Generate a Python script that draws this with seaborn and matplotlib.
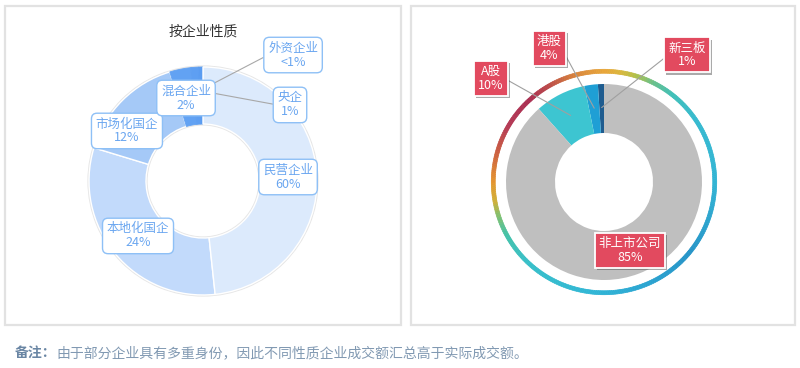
import numpy as np
import matplotlib
matplotlib.use('Agg')
import matplotlib.pyplot as plt
import matplotlib.patheffects as pe
from matplotlib.colors import LinearSegmentedColormap
from matplotlib.patches import Rectangle
import seaborn as sns

# 按企业性质（标签百分比 + 图上读出的扇区大小）
nature_names = ['民营企业', '本地化国企', '市场化国企', '混合企业', '央企', '外资企业']
nature_pct = ['60%', '24%', '12%', '2%', '1%', '<1%']
nature_share = [48.3, 31.4, 15.6, 3.0, 1.1, 0.6]
nature_colors = ['#dceafc', '#c2dafb', '#a5c9f7', '#62a2f3', '#5e9ff2', '#5a9cf1']

# 上市情况
listing_names = ['新三板', '港股', 'A股', '非上市公司']
listing_pct = ['1%', '4%', '10%', '85%']
listing_share = [1.0, 2.2, 8.4, 88.4]
listing_colors = ['#1f5c8f', '#1f9fd5', '#3dc5d1', '#bfbfbf']

title_left = '按企业性质'
note_head = '备注：'
note_body = '由于部分企业具有多重身份，因此不同性质企业成交额汇总高于实际成交额。'

# 外圈渐变色（顺时针，从正上方开始）
ring_stops = [(0, '#e8a63a'), (8, '#d8b83e'), (16, '#b0c04a'), (25, '#6cc088'),
              (37, '#40c0b8'), (55, '#36bad0'), (90, '#32b4d4'), (130, '#2694c8'),
              (160, '#2ba6d2'), (185, '#30b6d6'), (225, '#38c0c8'), (242, '#44c2a8'),
              (252, '#80c070'), (260, '#d0b038'), (270, '#e5962f'), (285, '#cc6040'),
              (300, '#b53a55'), (318, '#aa2e52'), (330, '#bb4a4a'), (345, '#d8843c'),
              (360, '#e8a63a')]
RING_N = 360

sns.set_theme(style='white')
plt.rcParams['font.family'] = ['Noto Sans CJK SC', 'DejaVu Sans']

W, H = 800, 368
fig = plt.figure(figsize=(W / 100, H / 100), dpi=100)
fig.patch.set_facecolor('white')


def panel(x0, y0, x1, y1, cx, cy, r):
    fig.patches.append(Rectangle((x0 / W, 1 - y1 / H), (x1 - x0) / W, (y1 - y0) / H,
                                 transform=fig.transFigure, fill=False,
                                 ec='#e2e2e2', lw=1.6, zorder=0))
    ax = fig.add_axes([x0 / W, 1 - y1 / H, (x1 - x0) / W, (y1 - y0) / H])
    lims = ((x0 - cx) / r, (x1 - cx) / r), ((cy - y1) / r, (cy - y0) / r)
    return ax, lims


def finish(ax, lims):
    ax.set_xlim(*lims[0])
    ax.set_ylim(*lims[1])
    ax.set_aspect('auto')
    ax.axis('off')


def mid_point(w, r):
    a = np.deg2rad((w.theta1 + w.theta2) / 2)
    return r * np.cos(a), r * np.sin(a)


# ---- 左图 ----
ax1, lim1 = panel(5, 6, 401, 325, 203, 181, 114)
ax1.pie([1], radius=1.014, colors=['#e6e6e6'], wedgeprops=dict(width=0.528, linewidth=0))
wedges1, _ = ax1.pie(nature_share, colors=nature_colors, startangle=90, counterclock=False,
                     radius=1, wedgeprops=dict(width=0.5, edgecolor='white', linewidth=1))
# 小扇区之间不留白缝
for w in wedges1[3:]:
    w.set_edgecolor(w.get_facecolor())
    w.set_linewidth(0.6)
wedges1[0].set_zorder(wedges1[-1].get_zorder() + 0.1)
finish(ax1, lim1)
ax1.text(0, 1.307, title_left, ha='center', va='center', fontsize=10, color='#333333')

left_pos = [(0.746, 0.035), (-0.570, -0.482), (-0.667, 0.439),
            (-0.149, 0.728), (0.763, 0.667), (0.79, 1.105)]
left_leader = [False, False, False, False, True, True]
box_l = dict(boxstyle='round,pad=0.34,rounding_size=0.45', fc='white', ec='#8ec0f6', lw=1)
for w, name, pct, pos, lead in zip(wedges1, nature_names, nature_pct, left_pos, left_leader):
    kw = dict(ha='center', va='center', fontsize=9, color='#6aa6f0', linespacing=1.1, bbox=box_l)
    if lead:
        ax1.annotate(f'{name}\n{pct}', xy=mid_point(w, 0.8), xytext=pos, zorder=5,
                     arrowprops=dict(arrowstyle='-', color='#a8a8a8', lw=0.8,
                                     relpos=(0, 0.5), shrinkA=0, shrinkB=0), **kw)
    else:
        ax1.text(pos[0], pos[1], f'{name}\n{pct}', zorder=6, **kw)

# ---- 右图 ----
ax2, lim2 = panel(411, 6, 795, 325, 604, 182, 98)
ring_cmap = LinearSegmentedColormap.from_list('ring', [(a / 360, c) for a, c in ring_stops])
ring, _ = ax2.pie(np.ones(RING_N), radius=1.15, startangle=90, counterclock=False,
                  colors=ring_cmap(np.linspace(0, 1, RING_N, endpoint=False)),
                  wedgeprops=dict(width=0.04, linewidth=0.5))
for w in ring:
    w.set_edgecolor(w.get_facecolor())
wedges2, _ = ax2.pie(listing_share, colors=listing_colors, startangle=90, counterclock=True,
                     radius=1, wedgeprops=dict(width=0.5, linewidth=0))
finish(ax2, lim2)

right_pos = [(0.847, 1.296), (-0.561, 1.367), (-1.153, 1.061), (0.265, -0.694)]
right_rel = [(0, 0.5), (1, 0.5), (1, 0.5), None]
box_r = dict(boxstyle='square,pad=0.32', fc='#e24a5f', ec='white', lw=1.3)
shadow = [pe.withSimplePatchShadow(offset=(1.5, -1.5), shadow_rgbFace='#444444', alpha=0.45)]
for w, name, pct, pos, rel in zip(wedges2, listing_names, listing_pct, right_pos, right_rel):
    kw = dict(ha='center', va='center', fontsize=9, color='white', linespacing=1.1, bbox=box_r)
    if rel is not None:
        t = ax2.annotate(f'{name}\n{pct}', xy=mid_point(w, 0.76), xytext=pos, zorder=5,
                         arrowprops=dict(arrowstyle='-', color='#a0a0a0', lw=0.8,
                                         relpos=rel, shrinkA=0, shrinkB=0), **kw)
    else:
        t = ax2.text(pos[0], pos[1], f'{name}\n{pct}', zorder=6, **kw)
    t.get_bbox_patch().set_path_effects(shadow)

# ---- 备注 ----
t1 = fig.text(15 / W, 1 - 353 / H, note_head, fontsize=10, fontweight='bold',
              color='#6a86a4', ha='left', va='center')
ax1.annotate(note_body, xy=(1, 0.5), xycoords=t1, ha='left', va='center',
             fontsize=10, color='#8199b2', annotation_clip=False)

fig.savefig('out.png', dpi=100, facecolor='white')
